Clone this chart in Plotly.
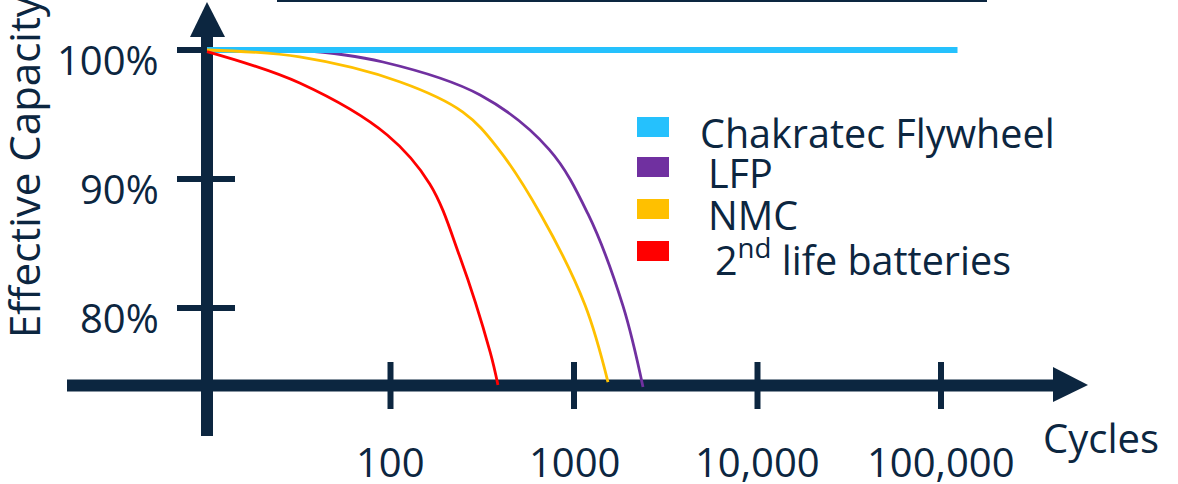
import math
import plotly.graph_objects as go

# ---- data -------------------------------------------------------------
flywheel_cycles = [10, 123000]
flywheel_cap = [100, 100]

lfp_cycles = [10, 32, 91, 308, 731, 1192, 1849, 2377]
lfp_cap = [100, 99.98, 99.07, 96.51, 92.3, 87.29, 80.16, 73.88]

nmc_cycles = [10, 32, 113, 248, 380, 661, 1148, 1532]
nmc_cap = [100, 99.46, 97.52, 95.19, 92.48, 87.21, 80.23, 74.26]

second_life_cycles = [10, 32, 96, 164, 239, 349, 385]
second_life_cap = [99.88, 97.44, 93.41, 89.6, 83.95, 76.59, 74.03]

x_tick_vals = [100, 1000, 10000, 100000]
x_tick_text = ["100", "1000", "10,000", "100,000"]
y_tick_vals = [100, 90, 80]
y_tick_text = ["100%", "90%", "80%"]

x_origin = 10      # cycles where the vertical axis crosses
y_origin = 74      # capacity where the horizontal axis crosses

series_names = ["Chakratec Flywheel", "LFP", "NMC", "2<sup>nd</sup> life batteries"]
series_colors = ["#25C1FD", "#7030A0", "#FFC000", "#FF0000"]

# ---- styling ----------------------------------------------------------
W, H = 1178, 484
NAVY = "#0C2640"
FONT = "Open Sans"


def px(x):
    return x / W


def py(y):
    return 1 - y / H


fig = go.Figure()

curve = dict(width=2.8, shape="spline", smoothing=1.0)
# purple sits under the flywheel line, the others above it
fig.add_trace(go.Scatter(x=lfp_cycles, y=lfp_cap, mode="lines",
                         line=dict(color=series_colors[1], **curve)))
fig.add_trace(go.Scatter(x=flywheel_cycles, y=flywheel_cap, mode="lines",
                         line=dict(color=series_colors[0], width=6)))
fig.add_trace(go.Scatter(x=nmc_cycles, y=nmc_cap, mode="lines",
                         line=dict(color=series_colors[2], **curve)))
fig.add_trace(go.Scatter(x=second_life_cycles, y=second_life_cap, mode="lines",
                         line=dict(color=series_colors[3], **curve)))

shapes = []
# vertical axis bar and arrow
shapes.append(dict(type="line", xref="x", yref="paper", x0=x_origin, x1=x_origin,
                   y0=py(436), y1=py(36), line=dict(color=NAVY, width=12), layer="below"))
shapes.append(dict(type="path", xref="paper", yref="paper",
                   path=f"M {px(190)},{py(37)} L {px(225)},{py(37)} L {px(207)},{py(2)} Z",
                   fillcolor=NAVY, line=dict(width=0), layer="below"))
# horizontal axis bar and arrow
shapes.append(dict(type="line", xref="paper", yref="y", x0=px(67), x1=px(1054),
                   y0=y_origin, y1=y_origin, line=dict(color=NAVY, width=12), layer="below"))
shapes.append(dict(type="path", xref="paper", yref="paper",
                   path=f"M {px(1053)},{py(367)} L {px(1053)},{py(402)} L {px(1088)},{py(385)} Z",
                   fillcolor=NAVY, line=dict(width=0), layer="below"))
# tick marks crossing the axes
for v in x_tick_vals:
    shapes.append(dict(type="line", xref="x", yref="paper", x0=v, x1=v,
                       y0=py(362), y1=py(409), line=dict(color=NAVY, width=6), layer="below"))
for v in y_tick_vals:
    shapes.append(dict(type="line", xref="paper", yref="y", x0=px(177), x1=px(235),
                       y0=v, y1=v, line=dict(color=NAVY, width=6), layer="below"))
# rule along the top edge
shapes.append(dict(type="line", xref="paper", yref="paper", x0=px(277), x1=px(987),
                   y0=py(1), y1=py(1), line=dict(color=NAVY, width=2)))

# legend swatches
legend_rows = [127, 167, 209, 251]
legend_text_x = [698, 706, 706, 713]
for i, yc in enumerate(legend_rows):
    shapes.append(dict(type="rect", xref="paper", yref="paper",
                       x0=px(637), x1=px(669), y0=py(yc - 10), y1=py(yc + 10),
                       fillcolor=series_colors[i], line=dict(width=0)))

annotations = []
for i, name in enumerate(series_names):
    annotations.append(dict(text=name, xref="paper", yref="paper",
                            x=px(legend_text_x[i]), y=py(legend_rows[i] + 6),
                            xanchor="left", yanchor="middle", showarrow=False,
                            font=dict(family=FONT, size=39.5, color=NAVY)))

for v, t in zip(y_tick_vals, y_tick_text):
    annotations.append(dict(text=t, xref="paper", yref="y", x=px(161), y=v, yshift=-9,
                            xanchor="right", yanchor="middle", showarrow=False,
                            font=dict(family=FONT, size=40, color=NAVY)))

for v, t in zip(x_tick_vals, x_tick_text):
    annotations.append(dict(text=t, xref="x", yref="paper", x=math.log10(v), y=py(461),
                            xanchor="center", yanchor="middle", showarrow=False,
                            font=dict(family=FONT, size=40, color=NAVY)))

annotations.append(dict(text="Cycles", xref="paper", yref="paper", x=px(1101), y=py(437),
                        xanchor="center", yanchor="middle", showarrow=False,
                        font=dict(family=FONT, size=40, color=NAVY)))
annotations.append(dict(text="Effective Capacity", xref="paper", yref="paper", x=px(23), y=py(167),
                        xanchor="center", yanchor="middle", textangle=-90, showarrow=False,
                        font=dict(family=FONT, size=42, color=NAVY)))

x_lo = 1 - 207 / 183.5
x_hi = 1 + (W - 207) / 183.5
y_lo = 100 - (H - 50) / 12.9
y_hi = 100 + 50 / 12.9

fig.update_layout(
    width=W, height=H,
    margin=dict(l=0, r=0, t=0, b=0),
    paper_bgcolor="white", plot_bgcolor="white",
    showlegend=False,
    xaxis=dict(type="log", range=[x_lo, x_hi], visible=False),
    yaxis=dict(range=[y_lo, y_hi], visible=False),
    shapes=shapes,
    annotations=annotations,
)

fig.write_html("out.html")
